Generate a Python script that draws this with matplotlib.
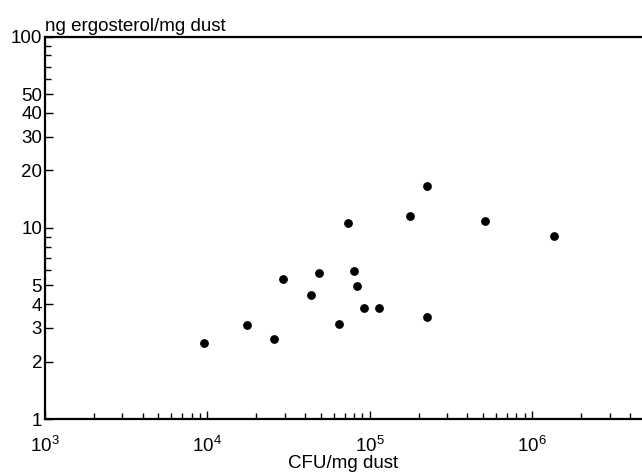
import matplotlib
matplotlib.use("Agg")
from matplotlib import pyplot as plt
from matplotlib.ticker import FixedLocator, NullFormatter, LogLocator

plt.rcParams['font.family'] = ['Liberation Sans', 'DejaVu Sans']
plt.rcParams['mathtext.fontset'] = 'custom'
plt.rcParams['mathtext.rm'] = 'Liberation Sans'
plt.rcParams['mathtext.it'] = 'Liberation Sans'

# CFU/mg dust vs ng ergosterol/mg dust
cfu = [9600, 17600, 25700, 29300, 43800, 48800, 64700, 73900, 80500, 83200,
       92800, 114800, 178000, 224000, 226000, 510000, 1360000]
ergo = [2.51, 3.10, 2.62, 5.41, 4.46, 5.81, 3.15, 10.6, 5.93, 4.97,
        3.83, 3.83, 11.5, 16.6, 3.41, 10.9, 9.08]

y_major = [1, 2, 3, 4, 5, 10, 20, 30, 40, 50, 100]
y_minor = [6, 7, 8, 9, 60, 70, 80, 90]
x_major = [1e3, 1e4, 1e5, 1e6]
x_labels = ['$10^3$', '$10^4$', '$10^5$', '$10^6$']

fig = plt.figure(figsize=(6.42, 4.74), dpi=100)
ax = fig.add_axes([0.070, 0.116, 0.930, 0.806])

ax.scatter(cfu, ergo, s=28, color='black', zorder=3, clip_on=False)

ax.set_xscale('log')
ax.set_yscale('log')
ax.set_xlim(1e3, 10 ** 6.677)
ax.set_ylim(1, 100)

ax.xaxis.set_major_locator(FixedLocator(x_major))
ax.set_xticklabels(x_labels)
ax.xaxis.set_minor_locator(LogLocator(base=10, subs=range(2, 10)))
ax.xaxis.set_minor_formatter(NullFormatter())

ax.yaxis.set_major_locator(FixedLocator(y_major))
ax.set_yticklabels([str(v) for v in y_major])
ax.yaxis.set_minor_locator(FixedLocator(y_minor))
ax.yaxis.set_minor_formatter(NullFormatter())

for s in ['left', 'bottom', 'top']:
    ax.spines[s].set_linewidth(1.6)
ax.spines['right'].set_visible(False)

ax.tick_params(which='both', direction='in', width=1.0, labelsize=13.5, top=False, right=False)
ax.tick_params(which='major', length=6)
ax.tick_params(which='minor', length=4)
ax.tick_params(axis='x', which='major', pad=12)
ax.tick_params(axis='y', which='major', pad=2)

ax.text(0.0, 1.004, 'ng ergosterol/mg dust', transform=ax.transAxes,
        ha='left', va='bottom', fontsize=13.5)
fig.text(0.535, 0.004, 'CFU/mg dust', ha='center', va='bottom', fontsize=13.5)

fig.savefig('out.png', dpi=100)
